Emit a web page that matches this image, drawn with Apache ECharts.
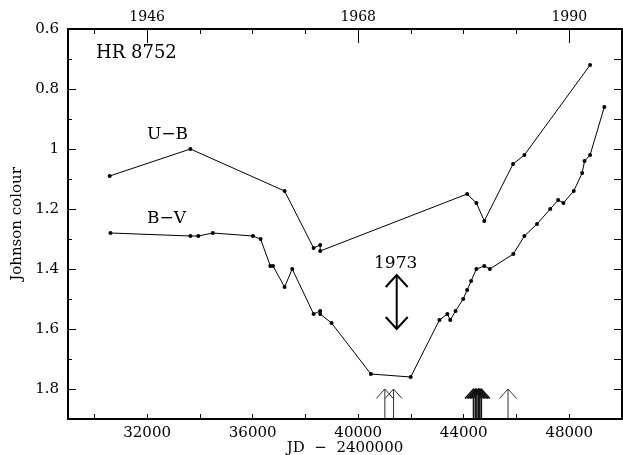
<!DOCTYPE html>
<html>
<head>
<meta charset="utf-8">
<script src="https://cdn.jsdelivr.net/npm/echarts@6/dist/echarts.min.js"></script>
<style>
  html, body { margin: 0; padding: 0; background: #fff; }
  #chart { width: 623px; height: 455px; }
</style>
</head>
<body>
<div id="chart"></div>
<script>
// U-B colour index
const jdUB = [30580, 33640, 37210, 38310, 38560, 38560, 44130, 44480, 44780, 45870, 46300, 48790];
const ubValues = [1.09, 1.00, 1.14, 1.33, 1.32, 1.34, 1.15, 1.18, 1.24, 1.05, 1.02, 0.72];

// B-V colour index
const jdBV = [30610, 33640, 33940, 34490, 36010, 36300, 36670, 36770, 37210, 37500, 38310, 38560,
  38560, 38990, 40480, 41990, 43080, 43380, 43490, 43690, 43980, 44130, 44280, 44480, 44780,
  44990, 45880, 46300, 46780, 47280, 47580, 47780, 48170, 48490, 48580, 48790, 49330];
const bvValues = [1.28, 1.29, 1.29, 1.28, 1.29, 1.30, 1.39, 1.39, 1.46, 1.40, 1.55, 1.54,
  1.55, 1.58, 1.75, 1.76, 1.57, 1.55, 1.57, 1.54, 1.50, 1.47, 1.44, 1.40, 1.39,
  1.40, 1.35, 1.29, 1.25, 1.20, 1.17, 1.18, 1.14, 1.08, 1.04, 1.02, 0.86];

// epochs marked by arrows at the bottom
const arrowThinJD = [41010, 41340, 45680];
const arrowThickJD = [44370, 44440, 44500, 44560, 44610, 44670];
const arrowBase = 1.9, arrowTip = 1.8;
const arrow1973 = [41460, 1.42, 1.60];

// ticks
const bottomTicks = [30000, 32000, 34000, 36000, 38000, 40000, 42000, 44000, 46000, 48000];
const bottomLabels = [32000, 36000, 40000, 44000, 48000];
const yearTicks = [32000, 40000, 48000];
const yearLabels = ['1946', '1968', '1990'];

const FONT = 'DejaVu Serif';
const chart = echarts.init(document.getElementById('chart'));

function arrowItem(head, width, color) {
  return function (params, api) {
    const x = api.value(0);
    const p0 = api.coord([x, api.value(1)]);
    const p1 = api.coord([x, api.value(2)]);
    const st = { stroke: color, lineWidth: width, fill: 'none' };
    const kids = [
      { type: 'line', shape: { x1: p0[0], y1: p0[1], x2: p1[0], y2: p1[1] }, style: st },
      { type: 'polyline', shape: { points: [[p1[0] - head[0], p1[1] + head[1]], [p1[0], p1[1]], [p1[0] + head[0], p1[1] + head[1]]] }, style: st }
    ];
    if (api.value(3)) {
      kids.push({ type: 'polyline', shape: { points: [[p0[0] - head[0], p0[1] - head[1]], [p0[0], p0[1]], [p0[0] + head[0], p0[1] - head[1]]] }, style: st });
    }
    return { type: 'group', children: kids };
  };
}

const option = {
  animation: false,
  backgroundColor: '#fff',
  textStyle: { fontFamily: FONT },
  grid: { left: 68, right: 1, top: 29, bottom: 36, outerBoundsMode: 'none', containLabel: false },
  xAxis: [
    {
      type: 'value', position: 'bottom', min: 29000, max: 50000,
      name: 'JD  \u2212  2400000', nameLocation: 'middle', nameGap: 22, nameMoveOverlap: false,
      nameTextStyle: { fontFamily: FONT, fontSize: 15, color: '#000', verticalAlign: 'top' },
      axisLine: { lineStyle: { color: '#000', width: 2 } },
      axisTick: { inside: true, length: 5, customValues: bottomTicks, lineStyle: { color: '#000' } },
      axisLabel: { customValues: bottomLabels, fontFamily: FONT, fontSize: 15, color: '#000', margin: 7, formatter: v => String(v) },
      splitLine: { show: false }
    },
    {
      type: 'value', position: 'top', min: 29000, max: 50000,
      axisLine: { lineStyle: { color: '#000', width: 2 } },
      axisTick: { inside: true, length: 5, customValues: bottomTicks, lineStyle: { color: '#000' } },
      axisLabel: { show: false },
      splitLine: { show: false }
    },
    {
      type: 'value', position: 'top', min: 29000, max: 50000,
      axisLine: { show: false },
      axisTick: { inside: true, length: 14, customValues: yearTicks, lineStyle: { color: '#000' } },
      axisLabel: {
        customValues: yearTicks, fontFamily: FONT, fontSize: 14, color: '#000', margin: 5,
        formatter: v => yearLabels[yearTicks.indexOf(v)]
      },
      splitLine: { show: false }
    }
  ],
  yAxis: [
    {
      type: 'value', inverse: true, min: 0.6, max: 1.9, interval: 0.2,
      name: 'Johnson colour', nameLocation: 'middle', nameGap: 42,
      nameTextStyle: { fontFamily: FONT, fontSize: 15, color: '#000' },
      axisLine: { show: true, lineStyle: { color: '#000', width: 2 } },
      axisTick: { show: true, inside: true, length: 8, lineStyle: { color: '#000' } },
      minorTick: { show: true, splitNumber: 2, length: 4, lineStyle: { color: '#000' } },
      axisLabel: {
        fontFamily: FONT, fontSize: 15, color: '#000', margin: 9,
        formatter: v => (v > 1.85 ? '' : String(+v.toFixed(1)))
      },
      splitLine: { show: false }
    },
    {
      type: 'value', position: 'right', inverse: true, min: 0.6, max: 1.9, interval: 0.1,
      axisLine: { show: true, lineStyle: { color: '#000', width: 2 } },
      axisTick: { show: true, inside: true, length: 8, lineStyle: { color: '#000' } },
      axisLabel: { show: false },
      splitLine: { show: false }
    }
  ],
  graphic: [
    { type: 'text', left: 96, top: 44, style: { text: 'HR 8752', font: '18px "DejaVu Serif"', fill: '#000' } },
    { type: 'text', left: 147, top: 126, style: { text: 'U\u2212B', font: '17px "DejaVu Serif"', fill: '#000' } },
    { type: 'text', left: 147, top: 210, style: { text: 'B\u2212V', font: '17px "DejaVu Serif"', fill: '#000' } },
    { type: 'text', left: 374, top: 255, style: { text: '1973', font: '17px "DejaVu Serif"', fill: '#000' } }
  ],
  series: [
    {
      type: 'line', name: 'U-B', xAxisIndex: 0, yAxisIndex: 0,
      data: jdUB.map((x, i) => [x, ubValues[i]]),
      symbol: 'circle', symbolSize: 4,
      lineStyle: { color: '#000', width: 1 }, itemStyle: { color: '#000' }
    },
    {
      type: 'line', name: 'B-V', xAxisIndex: 0, yAxisIndex: 0,
      data: jdBV.map((x, i) => [x, bvValues[i]]),
      symbol: 'circle', symbolSize: 4,
      lineStyle: { color: '#000', width: 1 }, itemStyle: { color: '#000' }
    },
    {
      type: 'custom', xAxisIndex: 0, yAxisIndex: 0,
      renderItem: arrowItem([8.5, 9.5], 1, '#333'),
      encode: { x: 0, y: [1, 2] },
      data: arrowThinJD.map(x => [x, arrowBase, arrowTip, 0])
    },
    {
      type: 'custom', xAxisIndex: 0, yAxisIndex: 0,
      renderItem: arrowItem([8.5, 9.5], 1.5, '#111'),
      encode: { x: 0, y: [1, 2] },
      data: arrowThickJD.map(x => [x, arrowBase, arrowTip, 0])
    },
    {
      type: 'custom', xAxisIndex: 0, yAxisIndex: 0,
      renderItem: arrowItem([11, 12], 2, '#000'),
      encode: { x: 0, y: [1, 2] },
      data: [[arrow1973[0], arrow1973[2], arrow1973[1], 1]]
    }
  ]
};

chart.setOption(option);
</script>
</body>
</html>
